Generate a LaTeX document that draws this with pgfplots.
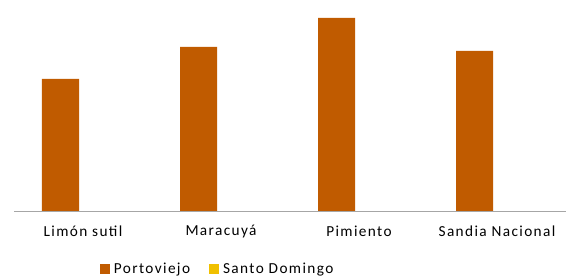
\documentclass[border=0pt]{standalone}
\usepackage{fontspec}
\setmainfont{Carlito}[LetterSpace=9]
\usepackage{pgfplots}
\pgfplotsset{compat=1.18}
\definecolor{porto}{HTML}{C05B00}
\definecolor{santo}{HTML}{F0C000}
\definecolor{axgray}{HTML}{A6A6A6}
\begin{document}
\begin{tikzpicture}[font=\fontsize{15.3bp}{18bp}\selectfont]
\useasboundingbox (0,0) rectangle (566bp,278bp);
\begin{axis}[
  at={(14bp,67bp)}, anchor=south west,
  scale only axis, width=552bp, height=200bp,
  ymin=0, ymax=200, xmin=-0.5, xmax=3.5,
  axis x line=bottom, axis y line=none,
  x axis line style={draw=axgray, line width=1pt, -},
  xtick={0,1,2,3},
  xticklabels={Limón sutil, Maracuyá, Pimiento, Sandia Nacional},
  major tick length=0pt,
  xticklabel style={yshift=-11bp},
  ybar=8bp, bar width=37bp,
  legend style={at={(0.150,-0.29)}, anchor=west, draw=none, fill=none,
    legend columns=2, /tikz/every even column/.append style={column sep=17bp}},
  legend cell align=left,
  legend image code/.code={\fill[#1] (0bp,-5bp) rectangle (10bp,5bp);},
]
\addplot[fill=porto, draw=none] coordinates {(0,132) (1,164) (2,193) (3,160)};
\addplot[fill=santo, draw=none] coordinates {(0,0) (1,0) (2,0) (3,0)};
\legend{\hspace{2bp}Portoviejo, \hspace{2bp}Santo Domingo}
\end{axis}
\end{tikzpicture}
\end{document}
